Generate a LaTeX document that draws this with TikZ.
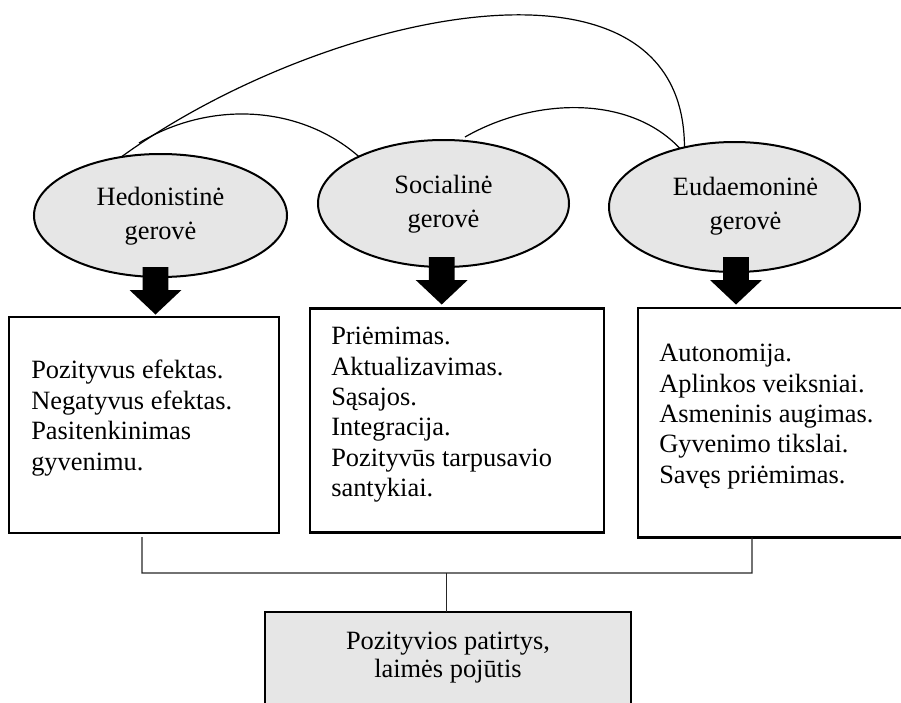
\documentclass[tikz,border=0pt]{standalone}
\usepackage{fontspec}
\setmainfont{Liberation Serif}
\usetikzlibrary{shapes.geometric,calc}
\definecolor{shade}{HTML}{E6E6E6}
\begin{document}
\begin{tikzpicture}[x=0.75pt,y=-0.75pt,
  every node/.style={font=\fontsize{19.8}{22.8}\selectfont},
  ell/.style={ellipse, draw, line width=1.5pt, fill=shade, inner sep=0pt, outer sep=0pt},
  etext/.style={align=center, inner sep=0pt, font=\fontsize{19.8}{25.5}\selectfont},
  box/.style={rectangle, draw, line width=2pt, inner sep=0pt, outer sep=0pt},
  btext/.style={align=left, anchor=north west, inner sep=0pt},
  link/.style={line width=0.9pt},
  conn/.style={line width=1pt, draw=black!85},
  downarr/.pic={\fill (-12.8,0) -- (12.8,0) -- (12.8,23) -- (26,23) -- (0,47.5) -- (-26,23) -- (-12.8,23) -- cycle;}]

\useasboundingbox (0,0) rectangle (901,703);
\clip (0,0) rectangle (901,703);

% the three kinds of well-being
\node[ell, minimum width=189.75pt, minimum height=92.25pt] (e1) at (160.5,215.5) {};
\node[ell, minimum width=188.25pt, minimum height=95.25pt] (e2) at (443.5,203.5) {};
\node[ell, minimum width=188.25pt, minimum height=97.5pt] (e3) at (734.5,207) {};
\node[etext] (t1) at ($(e1)+(0,1)$) {Hedonistinė\\gerovė};
\node[etext] (t2) at ($(e2)+(0,1)$) {Socialinė\\gerovė};
\node[etext] (t3) at ($(e3)+(11,-1)$) {Eudaemoninė\\gerovė};

% arcs linking the ellipses
\draw[link] (e1.124.6) .. controls (318,14) and (684,-70) .. (e3.130.1);
\coordinate (h1) at (139,143);
\draw[link] (h1) .. controls (210,100) and (300,105) .. (e2.151.7);
\coordinate (s1) at (465,137);
\draw[link] (s1) .. controls (535,97) and (630,95) .. (e3.133.7);

% component boxes
\node[box, minimum width=202.5pt, minimum height=162pt] (b1) at (144,425) {};
\node[box, minimum width=220.5pt, minimum height=168pt] (b2) at (457,420.5) {};
\node[box, minimum width=226.5pt, minimum height=172.1pt] (b3) at (789,422.75) {};
\node[btext] (l1) at ($(b1.north west)+(22,43)$) {Pozityvus efektas.\\Negatyvus efektas.\\Pasitenkinimas\\gyvenimu.};
\node[btext] (l2) at ($(b2.north west)+(21,18.5)$) {Priėmimas.\\Aktualizavimas.\\Sąsajos.\\Integracija.\\Pozityvūs tarpusavio\\santykiai.};
\node[btext] (l3) at ($(b3.north west)+(21,36)$) {Autonomija.\\Aplinkos veiksniai.\\Asmeninis augimas.\\Gyvenimo tikslai.\\Savęs priėmimas.};

% block arrows from each ellipse to its box
\pic at ($(e1.south)+(-5,-10)$) {downarr};
\pic at ($(e2.south)+(-1.8,-10)$) {downarr};
\pic at ($(e3.south)+(1.5,-15)$) {downarr};

% outcome box
\node[box, fill=shade, minimum width=274.5pt, minimum height=111pt] (pb) at (448,686) {};
\node[align=center, inner sep=0pt, font=\fontsize{19.8}{21}\selectfont] (pt) at ($(pb.north)+(0,46)$) {Pozityvios patirtys,\\laimės pojūtis};

% bracket joining the boxes to the outcome
\coordinate (jl) at ($(b1.south)+(-2,40)$);
\coordinate (jr) at ($(b3.south west)+(114,35.5)$);
\draw[conn] ($(b1.south)+(-2,4)$) -- (jl) -- (jr) -- (jr |- b3.south);
\coordinate (jm) at ($(pb.north)+(-1.4,-39)$);
\draw[conn] (jm) -- ($(pb.north)+(-1.4,0)$);
\end{tikzpicture}
\end{document}
